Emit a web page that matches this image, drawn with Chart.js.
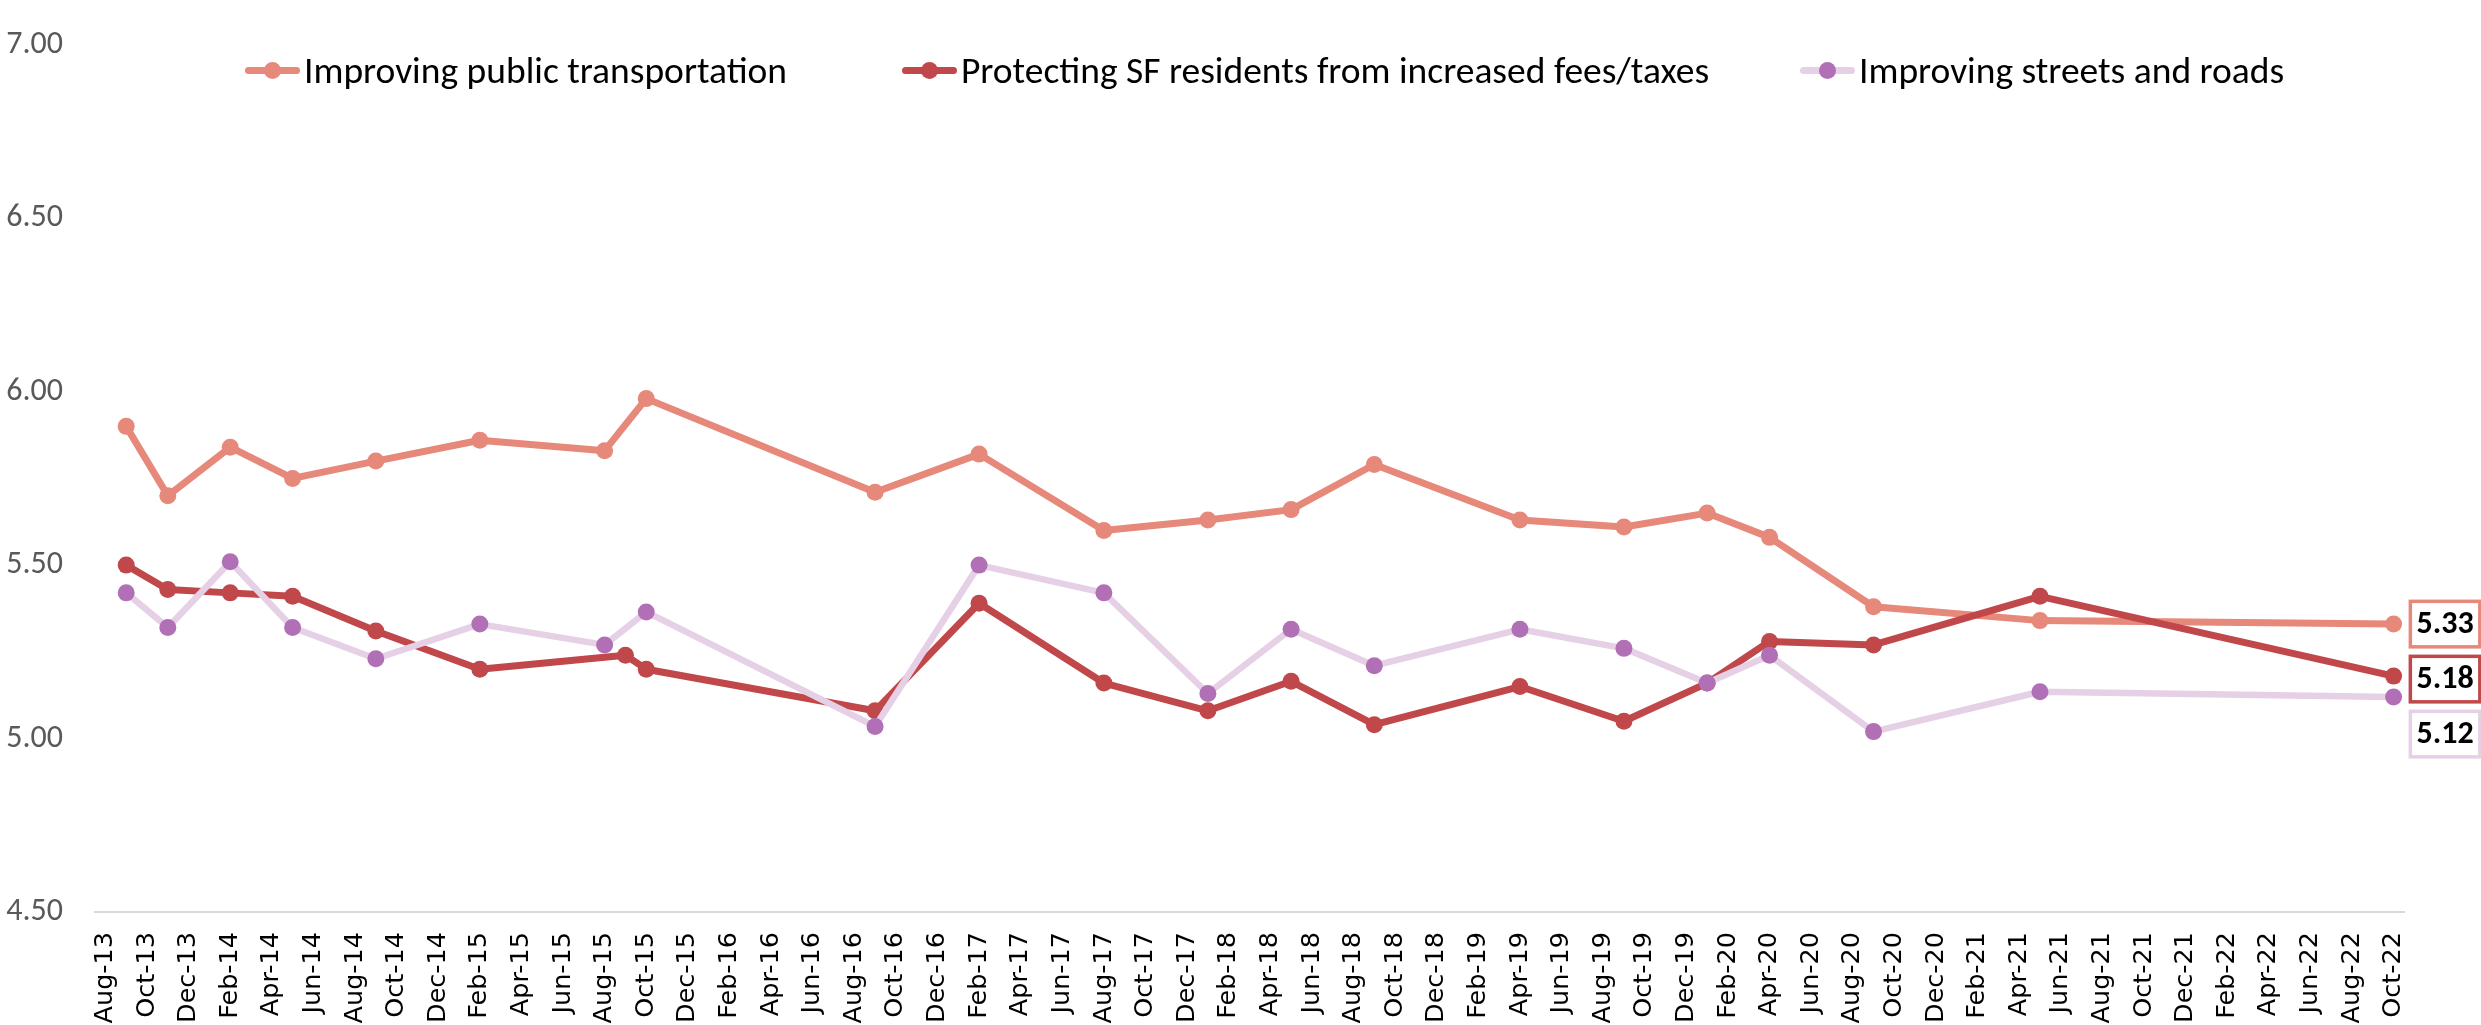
<!DOCTYPE html>
<html>
<head>
<meta charset="utf-8">
<title>Priorities tracking</title>
<script src="https://cdn.jsdelivr.net/npm/chart.js@4.4.1/dist/chart.umd.min.js"></script>
<style>
  html, body { margin: 0; padding: 0; background: #fff; overflow: hidden; }
  #wrap { position: relative; width: 2481px; height: 1025px; }
  #legend { position: absolute; top: 48px; left: 0; width: 100%; height: 44px;
            font-family: Carlito, Calibri, Lato, sans-serif; font-size: 37.5px; color: #000; }
  .item { position: absolute; top: 0; height: 44px; display: flex; align-items: center; white-space: nowrap; }
  .swatch { position: relative; width: 55px; height: 17px; margin-right: 4px; }
  .swatch .ln { position: absolute; left: 0; right: 0; top: 5px; height: 7px; border-radius: 4px; }
  .swatch .dot { position: absolute; left: 19px; top: 0; width: 17px; height: 17px; border-radius: 50%; }
</style>
</head>
<body>
<div id="wrap">
  <canvas id="chart" width="2481" height="1025"></canvas>
  <div id="legend"></div>
</div>
<script>
// survey waves (month of fieldwork)
const surveyDates = ['Sep-13', 'Nov-13', 'Feb-14', 'May-14', 'Sep-14', 'Feb-15', 'Aug-15', 'Sep-15',
                     'Oct-15', 'Sep-16', 'Feb-17', 'Aug-17', 'Jan-18', 'May-18', 'Sep-18', 'Apr-19',
                     'Sep-19', 'Jan-20', 'Apr-20', 'Sep-20', 'May-21', 'Oct-22'];

// mean scores per wave, null = not asked that wave
const transitScores = [5.90, 5.70, 5.84, 5.75, 5.80, 5.86, 5.83, null,
                       5.98, 5.71, 5.82, 5.60, 5.63, 5.66, 5.79, 5.63,
                       5.61, 5.65, 5.58, 5.38, 5.34, 5.33];
const feesScores = [5.50, 5.43, 5.42, 5.41, 5.31, 5.20, null, 5.24,
                    5.20, 5.08, 5.39, 5.16, 5.08, 5.165, 5.04, 5.15,
                    5.05, 5.16, 5.28, 5.27, 5.41, 5.18];
const streetScores = [5.42, 5.32, 5.51, 5.32, 5.23, 5.33, 5.27, null,
                      5.365, 5.035, 5.50, 5.42, 5.13, 5.315, 5.21, 5.315,
                      5.26, 5.16, 5.24, 5.02, 5.135, 5.12];

const seriesNames = ['Improving public transportation',
                     'Protecting SF residents from increased fees/taxes',
                     'Improving streets and roads'];

// axis runs month by month from Aug-13 to Oct-22
const monthNames = ['Jan', 'Feb', 'Mar', 'Apr', 'May', 'Jun', 'Jul', 'Aug', 'Sep', 'Oct', 'Nov', 'Dec'];
const axisMonths = [];
for (let i = 0; i < 111; i++) {
    const idx = 7 + i;
    axisMonths.push(monthNames[idx % 12] + '-' + (13 + Math.floor(idx / 12)));
}

const colors = {
    transit: '#E6887A',
    fees: '#C0474A',
    streetsLine: '#E6D0E6',
    streetsPoint: '#B16FB5'
};

const labelFont = 'Carlito, Calibri, Lato, sans-serif';

function toPoints(values) {
    return surveyDates.map((d, i) => ({ x: d, y: values[i] })).filter(p => p.y !== null);
}

// boxed value next to the last point of every line
const lastValueLabels = {
    id: 'lastValueLabels',
    afterDatasetsDraw(chart) {
        const ctx = chart.ctx;
        const boxes = chart.data.datasets.map((ds, i) => {
            const meta = chart.getDatasetMeta(i);
            const pt = meta.data[meta.data.length - 1];
            return {
                x: pt.x + 15,
                y: pt.y,
                text: ds.data[ds.data.length - 1].y.toFixed(2),
                color: ds.borderColor
            };
        }).sort((a, b) => a.y - b.y);

        const w = 73, h = 49;
        let prevBottom = -Infinity;
        ctx.save();
        boxes.forEach(b => {
            const top = Math.max(b.y - h / 2, prevBottom + 6);
            prevBottom = top + h;
            ctx.fillStyle = '#fff';
            ctx.fillRect(b.x, top, w, h);
            ctx.lineWidth = 3.5;
            ctx.strokeStyle = b.color;
            ctx.strokeRect(b.x + 1.75, top + 1.75, w - 3.5, h - 3.5);
            ctx.fillStyle = '#000';
            ctx.font = 'bold 32px ' + labelFont;
            ctx.textAlign = 'center';
            ctx.textBaseline = 'middle';
            ctx.fillText(b.text, b.x + w / 2, top + h / 2 + 1);
        });
        ctx.restore();
    }
};

const ctx = document.getElementById('chart').getContext('2d');
const chart = new Chart(ctx, {
    type: 'line',
    data: {
        labels: axisMonths,
        datasets: [
            {
                label: seriesNames[0],
                data: toPoints(transitScores),
                borderColor: colors.transit,
                backgroundColor: colors.transit,
                pointBackgroundColor: colors.transit,
                pointBorderWidth: 0,
                borderWidth: 7,
                order: 3
            },
            {
                label: seriesNames[1],
                data: toPoints(feesScores),
                borderColor: colors.fees,
                backgroundColor: colors.fees,
                pointBackgroundColor: colors.fees,
                pointBorderWidth: 0,
                borderWidth: 7,
                order: 2
            },
            {
                label: seriesNames[2],
                data: toPoints(streetScores),
                borderColor: colors.streetsLine,
                backgroundColor: colors.streetsPoint,
                pointBackgroundColor: colors.streetsPoint,
                pointBorderWidth: 0,
                borderWidth: 6.5,
                order: 1
            }
        ]
    },
    options: {
        responsive: false,
        animation: false,
        devicePixelRatio: 1,
        layout: { padding: { top: 0, right: 77, bottom: 0, left: 0 } },
        elements: {
            line: { tension: 0, borderCapStyle: 'round', borderJoinStyle: 'round' },
            point: { radius: 8.5, borderWidth: 0, hoverRadius: 8.5 }
        },
        plugins: {
            legend: { display: false },
            tooltip: { enabled: false }
        },
        scales: {
            x: {
                type: 'category',
                offset: true,
                grid: { display: false, drawTicks: false },
                border: { display: true, color: '#D9D9D9', width: 2 },
                afterFit: (scale) => { scale.height = 113; },
                ticks: {
                    autoSkip: false,
                    minRotation: 90,
                    maxRotation: 90,
                    padding: 20,
                    color: '#000',
                    font: { family: "'DejaVu Sans', Verdana, sans-serif", size: 25.5 },
                    callback: (value, index) => index % 2 === 0 ? axisMonths[index] : null
                }
            },
            y: {
                min: 4.5,
                max: 7,
                grid: { display: false, drawTicks: false },
                border: { display: false },
                afterFit: (scale) => { scale.width = 95; },
                ticks: {
                    stepSize: 0.5,
                    padding: 32,
                    color: '#595959',
                    font: { family: labelFont, size: 32, lineHeight: 0.8 },
                    callback: (value) => value.toFixed(2)
                }
            }
        }
    },
    plugins: [lastValueLabels]
});

// legend: line with marker, then the series name
const legendLeft = [245, 902, 1800];
const legendLine = [colors.transit, colors.fees, colors.streetsLine];
const legendDot = [colors.transit, colors.fees, colors.streetsPoint];
const legend = document.getElementById('legend');
seriesNames.forEach((name, i) => {
    const item = document.createElement('div');
    item.className = 'item';
    item.style.left = legendLeft[i] + 'px';
    item.innerHTML = '<span class="swatch"><span class="ln" style="background:' + legendLine[i] + '"></span>' +
                     '<span class="dot" style="background:' + legendDot[i] + '"></span></span>' +
                     '<span class="txt">' + name + '</span>';
    legend.appendChild(item);
});
</script>
</body>
</html>
